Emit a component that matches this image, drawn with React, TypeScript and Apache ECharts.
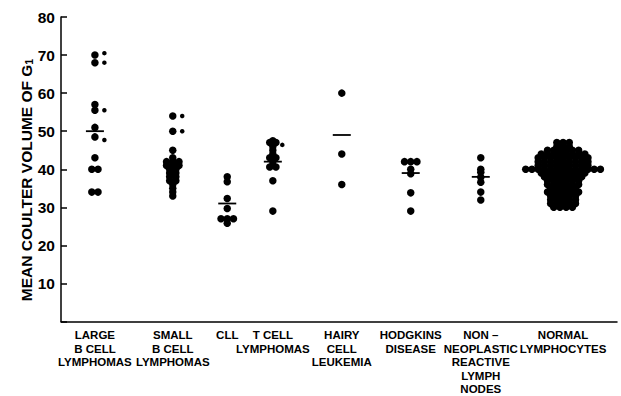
import React, { useEffect, useRef } from "react";
import * as echarts from "echarts";

// ---- data ----
const categories = [
  "LARGE\nB CELL\nLYMPHOMAS",
  "SMALL\nB CELL\nLYMPHOMAS",
  "CLL",
  "T CELL\nLYMPHOMAS",
  "HAIRY\nCELL\nLEUKEMIA",
  "HODGKINS\nDISEASE",
  "NON –\nNEOPLASTIC\nREACTIVE\nLYMPH\nNODES",
  "NORMAL\nLYMPHOCYTES",
];

const largeB = [70, 68, 57, 55.5, 51, 48.5, 43, 40, 40, 34, 34];
const smallB = [54, 50, 45, 43, 42, 42, 42, 41, 41, 41, 40, 40, 39, 39, 38, 38, 37, 37, 36, 35, 34, 33];
const cll = [38, 36.7, 32.3, 29.7, 27, 27, 27, 25.8];
const tCell = [47.5, 47, 47, 46, 45, 44, 43, 43, 42, 41, 40.6, 40.6, 37, 29];
const hairy = [60, 44, 36];
const hodgkins = [42, 42, 42, 40, 38.8, 33.8, 29];
const nonNeoplastic = [43, 40, 39.2, 37.9, 36.6, 34, 31.9];
const normal = [
  47, 47, 47,
  46, 46, 46,
  45, 45, 45, 45, 45, 45,
  44, 44, 44, 44, 44, 44, 44, 44,
  43, 43, 43, 43, 43, 43, 43, 43, 43,
  42, 42, 42, 42, 42, 42, 42, 42, 42,
  41, 41, 41, 41, 41, 41, 41, 41, 41,
  40, 40, 40, 40, 40, 40, 40, 40, 40, 40, 40, 40, 40,
  39, 39, 39, 39, 39, 39, 39, 39,
  38, 38, 38, 38, 38, 38, 38,
  37, 37, 37, 37, 37, 37,
  36, 36, 36, 36, 36, 36,
  35, 35, 35, 35, 35,
  34, 34, 34, 34, 34, 34,
  33, 33, 33, 33, 33,
  32, 32, 32, 32, 32,
  31, 31, 31, 31, 31,
  30, 30, 30, 30,
];
const groupValues = [largeB, smallB, cll, tCell, hairy, hodgkins, nonNeoplastic, normal];

// secondary (small) markers: [category index, value]
const smallMarks: [number, number][] = [
  [0, 70.5], [0, 68], [0, 55.5], [0, 47.7],
  [1, 54], [1, 50],
  [3, 46.4],
];

const means = [50, 41, 31, 42, 49, 39, 38, 40];

const yTicks = [0, 10, 20, 30, 40, 50, 60, 70, 80];

// ---- layout (axis units 0..100 along the x axis) ----
const CAT_POS = [6.1, 20.1, 29.9, 38.1, 50.5, 62.9, 75.5, 90.3];
const STEP = 1.12; // side-by-side spacing of equal values
const SMALL_OFF = 1.7;

function swarm(values: number[], center: number) {
  const counts = new Map<number, number>();
  values.forEach((v) => counts.set(v, (counts.get(v) || 0) + 1));
  const out: number[][] = [];
  counts.forEach((n, v) => {
    for (let i = 0; i < n; i++) out.push([center + (i - (n - 1) / 2) * STEP, v]);
  });
  return out;
}

const FONT = '"Liberation Sans", Arial, Helvetica, sans-serif';

export default function App() {
  const ref = useRef<HTMLDivElement>(null);
  useEffect(() => {
    if (!ref.current) return;
    const chart = echarts.init(ref.current, null, { renderer: "svg" });

    const bigData: number[][] = [];
    groupValues.forEach((vals, i) => bigData.push(...swarm(vals, CAT_POS[i])));
    const smallData = smallMarks.map(([c, v]) => [CAT_POS[c] + SMALL_OFF, v]);
    const meanData = means.map((m, i) => [CAT_POS[i], m]);

    chart.setOption({
      animation: false,
      backgroundColor: "#fff",
      grid: { left: 61, right: 4, top: 17, bottom: 72, containLabel: false },
      xAxis: {
        type: "value",
        min: 0,
        max: 100,
        splitLine: { show: false },
        axisTick: { show: false },
        axisLine: { show: true, lineStyle: { color: "#000", width: 1.5 } },
        axisLabel: {
          customValues: CAT_POS,
          interval: 0,
          hideOverlap: false,
          margin: 7,
          color: "#000",
          fontFamily: FONT,
          fontWeight: "bold",
          fontSize: 11.5,
          lineHeight: 13.5,
          verticalAlign: "top",
          formatter: (v: number) => {
            let best = 0;
            CAT_POS.forEach((p, i) => {
              if (Math.abs(p - v) < Math.abs(CAT_POS[best] - v)) best = i;
            });
            return categories[best];
          },
        },
      },
      yAxis: {
        type: "value",
        min: yTicks[0],
        max: yTicks[yTicks.length - 1],
        interval: 10,
        splitLine: { show: false },
        axisLine: { show: true, lineStyle: { color: "#000", width: 1.5 } },
        axisTick: { show: true, inside: true, length: 6, lineStyle: { color: "#000", width: 1.5 } },
        axisLabel: {
          margin: 6,
          color: "#000",
          fontFamily: FONT,
          fontWeight: "bold",
          fontSize: 15.5,
          formatter: (v: number) => (v === 0 ? "" : String(v)),
        },
      },
      graphic: [
        {
          type: "text",
          x: 26,
          y: 180,
          rotation: Math.PI / 2,
          style: {
            text: "{a|MEAN COULTER VOLUME OF G}{s|1}",
            align: "center",
            verticalAlign: "middle",
            rich: {
              a: { fontFamily: FONT, fontWeight: "bold", fontSize: 15.5, fill: "#000" },
              s: { fontFamily: FONT, fontWeight: "bold", fontSize: 10.5, fill: "#000", verticalAlign: "bottom" },
            },
          },
        },
      ],
      series: [
        {
          type: "scatter",
          data: bigData,
          symbol: "circle",
          symbolSize: 7.5,
          itemStyle: { color: "#000", opacity: 1 },
          z: 3,
        },
        {
          type: "scatter",
          data: smallData,
          symbol: "circle",
          symbolSize: 4.5,
          itemStyle: { color: "#000", opacity: 1 },
          z: 3,
        },
        {
          type: "scatter",
          data: meanData,
          symbol: "rect",
          symbolSize: [18, 1.8],
          itemStyle: { color: "#000", opacity: 1 },
          z: 4,
        },
      ],
    });
    return () => chart.dispose();
  }, []);

  return <div ref={ref} style={{ width: 621, height: 396, position: "absolute", left: 0, top: 0, background: "#fff" }} />;
}
